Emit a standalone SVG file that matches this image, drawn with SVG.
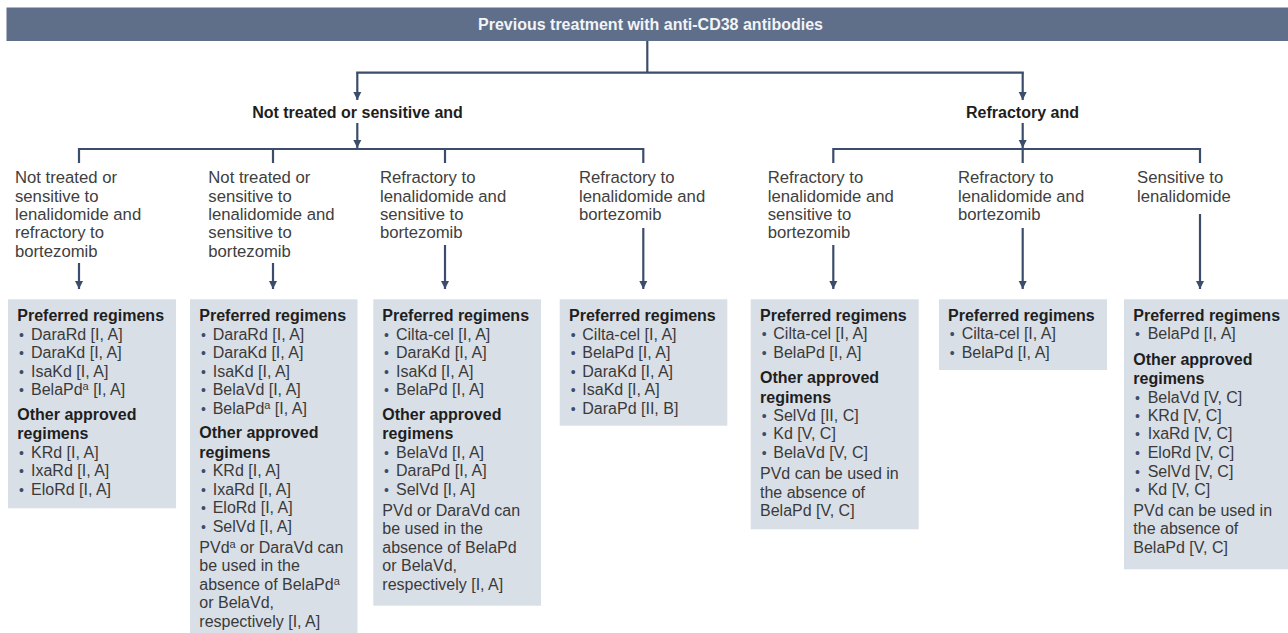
<svg xmlns="http://www.w3.org/2000/svg" width="1288" height="633" viewBox="0 0 1288 633">
<defs>
<style>
text{font-family:"Liberation Sans",Arial,sans-serif}
.lbl{font-size:16.7px;fill:#404040}
.hd{font-size:16px;font-weight:700;fill:#1e1e1e}
.tx{font-size:16px;fill:#3a3a3a}
.bu{font-size:14px;fill:#3b4d6b}
.sup{font-size:11px}
.box{fill:#d9dfe7}
.ln{stroke:#3b4d6b;stroke-width:2.2;fill:none}
.ar{stroke:#3b4d6b;stroke-width:2.2;fill:none;marker-end:url(#ah)}
.ttl{font-size:16px;font-weight:700;fill:#f2f4f7}
.grp{font-size:16px;font-weight:700;fill:#1e1e1e}
</style>
<marker id="ah" markerUnits="userSpaceOnUse" markerWidth="9" markerHeight="9" refX="8" refY="4.5" orient="auto">
<path d="M0,0.5 L8,4.5 L0,8.5 z" fill="#3b4d6b"/>
</marker>
</defs>
<rect width="1288" height="633" fill="#ffffff"/>

<g id="header">
<rect x="6.5" y="7.5" width="1281.5" height="33.5" fill="#5f6f8a"/>
<text class="ttl" x="650.5" y="29.5" text-anchor="middle">Previous treatment with anti-CD38 antibodies</text>
</g>

<g id="connectors">
<line class="ln" x1="647.3" y1="41" x2="647.3" y2="72.7"/>
<line class="ln" x1="356.2" y1="72.7" x2="1023.8" y2="72.7"/>
<line class="ar" x1="357.3" y1="72.7" x2="357.3" y2="100"/>
<line class="ar" x1="1022.7" y1="72.7" x2="1022.7" y2="100"/>
<line class="ar" x1="357.3" y1="123" x2="357.3" y2="148"/>
<line class="ar" x1="1022.7" y1="123" x2="1022.7" y2="148"/>
<path class="ln" d="M79,163 V149 H643.3 V163"/>
<line class="ln" x1="273" y1="149" x2="273" y2="163"/>
<line class="ln" x1="445" y1="149" x2="445" y2="163"/>
<path class="ln" d="M833.3,163 V149 H1200 V163"/>
<line class="ln" x1="1022.7" y1="149" x2="1022.7" y2="163"/>
<line class="ar" x1="79" y1="263" x2="79" y2="289"/>
<line class="ar" x1="273" y1="263" x2="273" y2="289"/>
<line class="ar" x1="445" y1="245" x2="445" y2="289"/>
<line class="ar" x1="643.3" y1="228" x2="643.3" y2="289"/>
<line class="ar" x1="833.3" y1="245" x2="833.3" y2="289"/>
<line class="ar" x1="1022.7" y1="228" x2="1022.7" y2="289"/>
<line class="ar" x1="1200" y1="214" x2="1200" y2="289"/>
</g>

<g id="group-not-treated">
<text class="grp" x="357.5" y="118" text-anchor="middle">Not treated or sensitive and</text>
</g>
<g id="group-refractory">
<text class="grp" x="1022.5" y="118" text-anchor="middle">Refractory and</text>
</g>

<g id="col1-label" class="lbl">
<text class="lbl" x="15" y="183.3">Not treated or</text>
<text class="lbl" x="15" y="201.6">sensitive to</text>
<text class="lbl" x="15" y="219.9">lenalidomide and</text>
<text class="lbl" x="15" y="238.2">refractory to</text>
<text class="lbl" x="15" y="256.5">bortezomib</text>
</g>
<g id="col2-label">
<text class="lbl" x="208.3" y="183.3">Not treated or</text>
<text class="lbl" x="208.3" y="201.6">sensitive to</text>
<text class="lbl" x="208.3" y="219.9">lenalidomide and</text>
<text class="lbl" x="208.3" y="238.2">sensitive to</text>
<text class="lbl" x="208.3" y="256.5">bortezomib</text>
</g>
<g id="col3-label">
<text class="lbl" x="380" y="183.3">Refractory to</text>
<text class="lbl" x="380" y="201.6">lenalidomide and</text>
<text class="lbl" x="380" y="219.9">sensitive to</text>
<text class="lbl" x="380" y="238.2">bortezomib</text>
</g>
<g id="col4-label">
<text class="lbl" x="579" y="183.3">Refractory to</text>
<text class="lbl" x="579" y="201.6">lenalidomide and</text>
<text class="lbl" x="579" y="219.9">bortezomib</text>
</g>
<g id="col5-label">
<text class="lbl" x="767.7" y="183.3">Refractory to</text>
<text class="lbl" x="767.7" y="201.6">lenalidomide and</text>
<text class="lbl" x="767.7" y="219.9">sensitive to</text>
<text class="lbl" x="767.7" y="238.2">bortezomib</text>
</g>
<g id="col6-label">
<text class="lbl" x="958" y="183.3">Refractory to</text>
<text class="lbl" x="958" y="201.6">lenalidomide and</text>
<text class="lbl" x="958" y="219.9">bortezomib</text>
</g>
<g id="col7-label">
<text class="lbl" x="1137" y="183.3">Sensitive to</text>
<text class="lbl" x="1137" y="201.6">lenalidomide</text>
</g>

<g id="box1">
<rect class="box" x="8" y="299.3" width="168" height="209"/>
<text class="hd" x="17.3" y="321">Preferred regimens</text>
<text class="tx" y="340"><tspan class="bu" x="19">•</tspan><tspan x="31">DaraRd [I, A]</tspan></text>
<text class="tx" y="358.3"><tspan class="bu" x="19">•</tspan><tspan x="31">DaraKd [I, A]</tspan></text>
<text class="tx" y="376.7"><tspan class="bu" x="19">•</tspan><tspan x="31">IsaKd [I, A]</tspan></text>
<text class="tx" y="395.3"><tspan class="bu" x="19">•</tspan><tspan x="31">BelaPd</tspan><tspan class="sup" dy="-5">a</tspan><tspan dy="5"> [I, A]</tspan></text>
<text class="hd" x="17.3" y="420">Other approved</text>
<text class="hd" x="17.3" y="439.3">regimens</text>
<text class="tx" y="457.7"><tspan class="bu" x="19">•</tspan><tspan x="31">KRd [I, A]</tspan></text>
<text class="tx" y="476.3"><tspan class="bu" x="19">•</tspan><tspan x="31">IxaRd [I, A]</tspan></text>
<text class="tx" y="494.7"><tspan class="bu" x="19">•</tspan><tspan x="31">EloRd [I, A]</tspan></text>
</g>

<g id="box2">
<rect class="box" x="190" y="299.3" width="167.5" height="340"/>
<text class="hd" x="199.3" y="321">Preferred regimens</text>
<text class="tx" y="340"><tspan class="bu" x="201">•</tspan><tspan x="212.7">DaraRd [I, A]</tspan></text>
<text class="tx" y="358.3"><tspan class="bu" x="201">•</tspan><tspan x="212.7">DaraKd [I, A]</tspan></text>
<text class="tx" y="376.7"><tspan class="bu" x="201">•</tspan><tspan x="212.7">IsaKd [I, A]</tspan></text>
<text class="tx" y="395.3"><tspan class="bu" x="201">•</tspan><tspan x="212.7">BelaVd [I, A]</tspan></text>
<text class="tx" y="413.7"><tspan class="bu" x="201">•</tspan><tspan x="212.7">BelaPd</tspan><tspan class="sup" dy="-5">a</tspan><tspan dy="5"> [I, A]</tspan></text>
<text class="hd" x="199.3" y="438.3">Other approved</text>
<text class="hd" x="199.3" y="457.5">regimens</text>
<text class="tx" y="476.3"><tspan class="bu" x="201">•</tspan><tspan x="212.7">KRd [I, A]</tspan></text>
<text class="tx" y="494.7"><tspan class="bu" x="201">•</tspan><tspan x="212.7">IxaRd [I, A]</tspan></text>
<text class="tx" y="513"><tspan class="bu" x="201">•</tspan><tspan x="212.7">EloRd [I, A]</tspan></text>
<text class="tx" y="532.3"><tspan class="bu" x="201">•</tspan><tspan x="212.7">SelVd [I, A]</tspan></text>
<text class="tx" x="199.3" y="552.7">PVd<tspan class="sup" dy="-5">a</tspan><tspan dy="5"> or DaraVd can</tspan></text>
<text class="tx" x="199.3" y="571">be used in the</text>
<text class="tx" x="199.3" y="589.7">absence of BelaPd<tspan class="sup" dy="-5">a</tspan></text>
<text class="tx" x="199.3" y="608.3">or BelaVd,</text>
<text class="tx" x="199.3" y="626.7">respectively [I, A]</text>
</g>

<g id="box3">
<rect class="box" x="373.3" y="299.3" width="167.7" height="306.4"/>
<text class="hd" x="382.3" y="321">Preferred regimens</text>
<text class="tx" y="340"><tspan class="bu" x="384">•</tspan><tspan x="396">Cilta-cel [I, A]</tspan></text>
<text class="tx" y="358.3"><tspan class="bu" x="384">•</tspan><tspan x="396">DaraKd [I, A]</tspan></text>
<text class="tx" y="376.7"><tspan class="bu" x="384">•</tspan><tspan x="396">IsaKd [I, A]</tspan></text>
<text class="tx" y="395.3"><tspan class="bu" x="384">•</tspan><tspan x="396">BelaPd [I, A]</tspan></text>
<text class="hd" x="382.3" y="420">Other approved</text>
<text class="hd" x="382.3" y="439.3">regimens</text>
<text class="tx" y="457.7"><tspan class="bu" x="384">•</tspan><tspan x="396">BelaVd [I, A]</tspan></text>
<text class="tx" y="476.3"><tspan class="bu" x="384">•</tspan><tspan x="396">DaraPd [I, A]</tspan></text>
<text class="tx" y="494.7"><tspan class="bu" x="384">•</tspan><tspan x="396">SelVd [I, A]</tspan></text>
<text class="tx" x="382.3" y="516">PVd or DaraVd can</text>
<text class="tx" x="382.3" y="534.3">be used in the</text>
<text class="tx" x="382.3" y="552.7">absence of BelaPd</text>
<text class="tx" x="382.3" y="571">or BelaVd,</text>
<text class="tx" x="382.3" y="590">respectively [I, A]</text>
</g>

<g id="box4">
<rect class="box" x="559.7" y="299.3" width="167.6" height="126.4"/>
<text class="hd" x="569" y="321">Preferred regimens</text>
<text class="tx" y="340"><tspan class="bu" x="570.7">•</tspan><tspan x="582.3">Cilta-cel [I, A]</tspan></text>
<text class="tx" y="358.3"><tspan class="bu" x="570.7">•</tspan><tspan x="582.3">BelaPd [I, A]</tspan></text>
<text class="tx" y="376.7"><tspan class="bu" x="570.7">•</tspan><tspan x="582.3">DaraKd [I, A]</tspan></text>
<text class="tx" y="395.3"><tspan class="bu" x="570.7">•</tspan><tspan x="582.3">IsaKd [I, A]</tspan></text>
<text class="tx" y="413.7"><tspan class="bu" x="570.7">•</tspan><tspan x="582.3">DaraPd [II, B]</tspan></text>
</g>

<g id="box5">
<rect class="box" x="750.7" y="299.3" width="168" height="230"/>
<text class="hd" x="760" y="321">Preferred regimens</text>
<text class="tx" y="339.3"><tspan class="bu" x="761.7">•</tspan><tspan x="773.3">Cilta-cel [I, A]</tspan></text>
<text class="tx" y="357.7"><tspan class="bu" x="761.7">•</tspan><tspan x="773.3">BelaPd [I, A]</tspan></text>
<text class="hd" x="760" y="383.3">Other approved</text>
<text class="hd" x="760" y="402.7">regimens</text>
<text class="tx" y="421"><tspan class="bu" x="761.7">•</tspan><tspan x="773.3">SelVd [II, C]</tspan></text>
<text class="tx" y="439.3"><tspan class="bu" x="761.7">•</tspan><tspan x="773.3">Kd [V, C]</tspan></text>
<text class="tx" y="457.7"><tspan class="bu" x="761.7">•</tspan><tspan x="773.3">BelaVd [V, C]</tspan></text>
<text class="tx" x="760" y="479.3">PVd can be used in</text>
<text class="tx" x="760" y="497.7">the absence of</text>
<text class="tx" x="760" y="516">BelaPd [V, C]</text>
</g>

<g id="box6">
<rect class="box" x="939" y="299.3" width="168" height="70.7"/>
<text class="hd" x="948" y="321">Preferred regimens</text>
<text class="tx" y="339.3"><tspan class="bu" x="949.7">•</tspan><tspan x="961.7">Cilta-cel [I, A]</tspan></text>
<text class="tx" y="357.7"><tspan class="bu" x="949.7">•</tspan><tspan x="961.7">BelaPd [I, A]</tspan></text>
</g>

<g id="box7">
<rect class="box" x="1124" y="299.3" width="164" height="270"/>
<text class="hd" x="1133.3" y="321">Preferred regimens</text>
<text class="tx" y="339.3"><tspan class="bu" x="1135">•</tspan><tspan x="1147.7">BelaPd [I, A]</tspan></text>
<text class="hd" x="1133.3" y="364.7">Other approved</text>
<text class="hd" x="1133.3" y="384.3">regimens</text>
<text class="tx" y="402.7"><tspan class="bu" x="1135">•</tspan><tspan x="1147.7">BelaVd [V, C]</tspan></text>
<text class="tx" y="421"><tspan class="bu" x="1135">•</tspan><tspan x="1147.7">KRd [V, C]</tspan></text>
<text class="tx" y="439.3"><tspan class="bu" x="1135">•</tspan><tspan x="1147.7">IxaRd [V, C]</tspan></text>
<text class="tx" y="458.3"><tspan class="bu" x="1135">•</tspan><tspan x="1147.7">EloRd [V, C]</tspan></text>
<text class="tx" y="476.7"><tspan class="bu" x="1135">•</tspan><tspan x="1147.7">SelVd [V, C]</tspan></text>
<text class="tx" y="495.3"><tspan class="bu" x="1135">•</tspan><tspan x="1147.7">Kd [V, C]</tspan></text>
<text class="tx" x="1133.3" y="516">PVd can be used in</text>
<text class="tx" x="1133.3" y="534.3">the absence of</text>
<text class="tx" x="1133.3" y="552.7">BelaPd [V, C]</text>
</g>
</svg>
